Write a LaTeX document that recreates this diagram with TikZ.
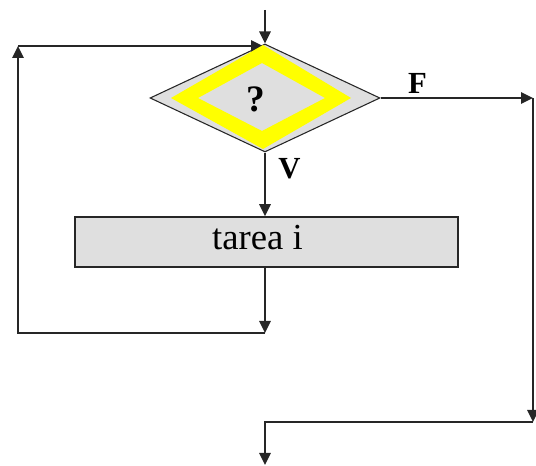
\documentclass[tikz,border=0pt]{standalone}
\usepackage{fontspec}
\setmainfont{Liberation Serif}
\usetikzlibrary{shapes.geometric,arrows.meta}
\definecolor{boxgrey}{HTML}{DFDFDF}
\definecolor{hiyellow}{HTML}{FFFF00}
\tikzset{
  conn/.style={line width=1.5pt,draw=black!85},
  arr/.style={conn,-{Triangle[length=9pt,width=8.5pt]}},
  greydia/.style={diamond,draw=black!85,line width=0.8pt,fill=boxgrey,inner sep=0pt,
    minimum width=172.5pt,minimum height=81pt},
  yellowband/.style={fill=hiyellow,even odd rule},
  taskbox/.style={rectangle,draw=black!85,line width=1.2pt,fill=boxgrey,inner sep=0pt,
    minimum width=287.25pt,minimum height=37.5pt},
  lbl/.style={anchor=base,inner sep=0pt,font=\bfseries\fontsize{23}{23}\selectfont},
  bigtxt/.style={anchor=base,inner sep=0pt,font=\fontsize{27.5}{27.5}\selectfont},
}
\begin{document}
\begin{tikzpicture}[x=0.75pt,y=-0.75pt]
\useasboundingbox (0,0) rectangle (536,466);
% nodes
\node[greydia] (d) at (265,98) {};
\node[bigtxt,font=\bfseries\fontsize{28}{28}\selectfont] (q) at (256,112) {?};
\node[taskbox] (tb) at (266.5,242) {};
\node[bigtxt] (tt) at (257.5,250) {tarea i};
\node[lbl] (f) at (417.5,94) {F};
\node[lbl] (v) at (289.5,179) {V};
% coordinates
\coordinate (top) at (265,10);
\coordinate (c1) at (265,333);
\coordinate (c2) at (18,333);
\coordinate (c3) at (18,46);
\coordinate (c4) at (263,46);
\coordinate (c5) at (533,98);
\coordinate (c6) at (533,422);
\coordinate (c7) at (265,422);
\coordinate (bot) at (265,465);
% connectors
\draw[arr] (top) -- (d.north);
\draw[arr] (d.south) -- (d.south |- tb.north);
\draw[arr] (tb.south -| c1) -- (c1);
\draw[arr] (c1) -- (c2) -- (c3);
\draw[arr] (c3) -- (c4);
\draw[arr] (d.east) -- (c5);
\draw[arr] (c5) -- (c6);
\draw[arr] (c6) -- (c7) -- (bot);
% yellow highlight band on top
\fill[yellowband] (263,45) -- (351,98) -- (263,149) -- (171,98) -- cycle
  (262,63) -- (325,98) -- (262,131) -- (198,98) -- cycle;
\end{tikzpicture}
\end{document}
